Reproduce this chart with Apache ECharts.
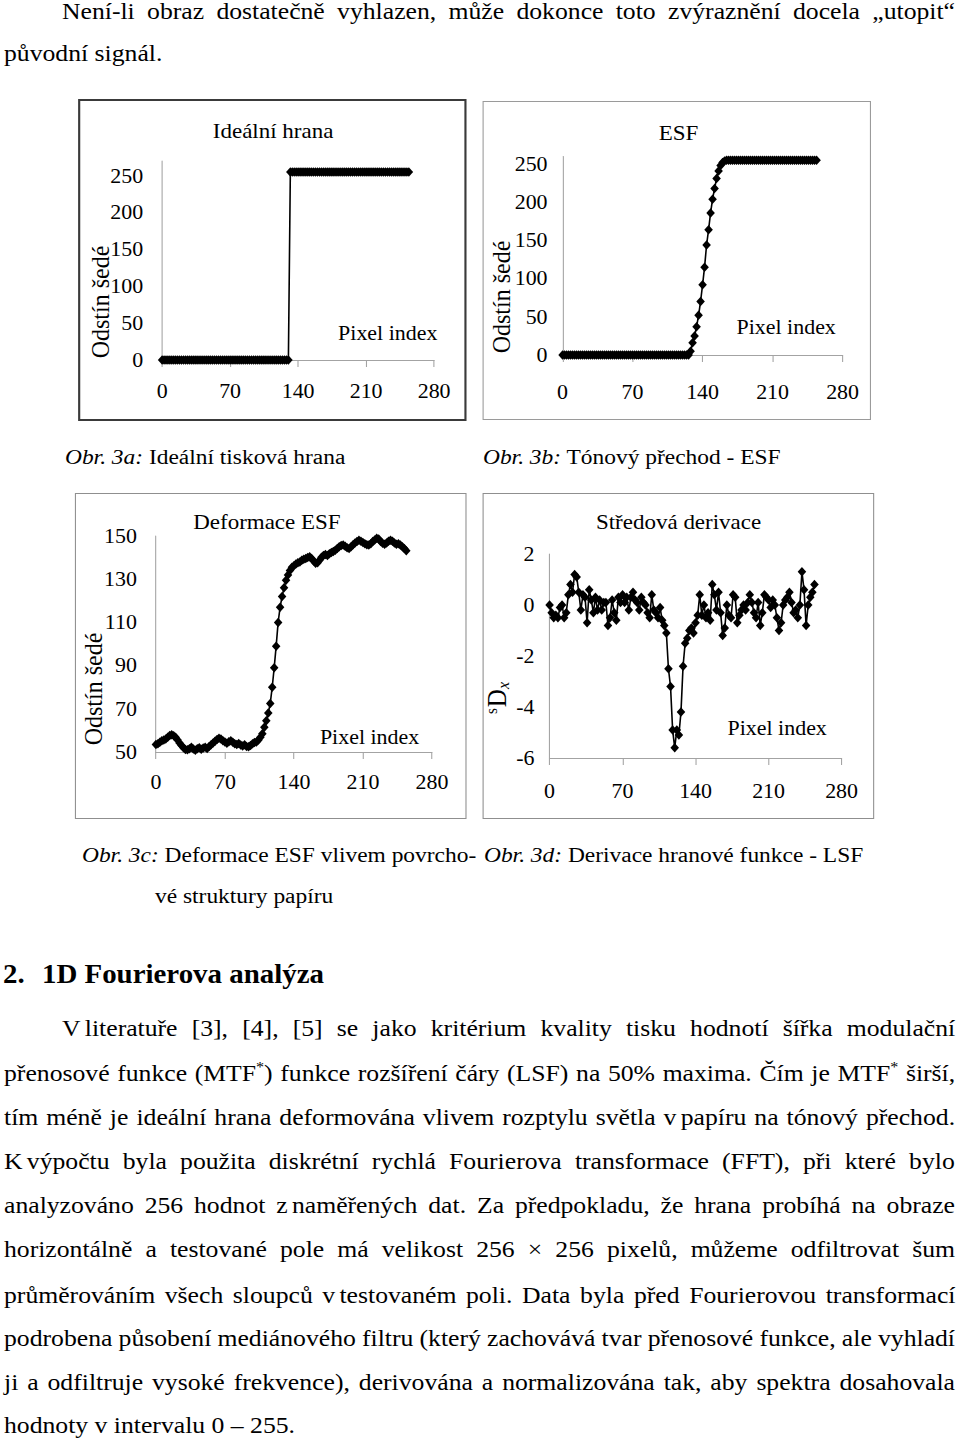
<!DOCTYPE html>
<html><head><meta charset="utf-8">
<script src="https://cdn.jsdelivr.net/npm/echarts@6/dist/echarts.min.js"></script>
<style>
html,body{margin:0;padding:0;background:#fff;}
body{width:960px;height:1440px;overflow:hidden;position:relative;}
#page{position:absolute;left:0;top:0;height:1440px;transform-origin:0 0;font-family:"Liberation Serif","Times New Roman",serif;color:#000;}
.ln{position:absolute;white-space:nowrap;font-size:21.9px;line-height:44px;}
.bd{font-size:24px;}
.hd{font-size:27px;font-weight:bold;}
.ns{display:inline-block;width:4px;}
sup{font-size:15px;line-height:0;vertical-align:9px;}
.frame{position:absolute;box-sizing:border-box;}
.chart{position:absolute;}
</style></head><body>
<div id="page">
<div class="ln bd" data-x="62" data-r="955" data-y="12">Není-li obraz dostatečně vyhlazen, může dokonce toto zvýraznění docela „utopit“</div>
<div class="ln bd" data-x="4" data-y="54">původní signál.</div>

<div class="frame" id="fA"></div><div class="chart" id="cA"></div>
<div class="frame" id="fB"></div><div class="chart" id="cB"></div>
<div class="ln" data-x="65" data-y="458"><i>Obr. 3a:</i> Ideální tisková hrana</div>
<div class="ln" data-x="483" data-y="458"><i>Obr. 3b:</i> Tónový přechod - ESF</div>

<div class="frame" id="fC"></div><div class="chart" id="cC"></div>
<div class="frame" id="fD"></div><div class="chart" id="cD"></div>
<div class="ln" data-x="82" data-y="856"><i>Obr. 3c:</i> Deformace ESF vlivem povrcho-</div>
<div class="ln" data-x="155" data-y="897">vé struktury papíru</div>
<div class="ln" data-x="484" data-y="856"><i>Obr. 3d:</i> Derivace hranové funkce - LSF</div>

<div class="ln hd" data-x="3" data-y="975">2.</div>
<div class="ln hd" data-x="42" data-y="975">1D Fourierova analýza</div>

<div class="ln bd" data-x="62" data-r="955" data-y="1029">V<span class="ns"></span>literatuře [3], [4], [5] se jako kritérium kvality tisku hodnotí šířka modulační</div>
<div class="ln bd" data-x="4" data-r="955" data-y="1074">přenosové funkce (MTF<sup>*</sup>) funkce rozšíření čáry (LSF) na 50% maxima. Čím je MTF<sup>*</sup> širší,</div>
<div class="ln bd" data-x="4" data-r="955" data-y="1118">tím méně je ideální hrana deformována vlivem rozptylu světla v<span class="ns"></span>papíru na tónový přechod.</div>
<div class="ln bd" data-x="4" data-r="955" data-y="1162">K<span class="ns"></span>výpočtu byla použita diskrétní rychlá Fourierova transformace (FFT), při které bylo</div>
<div class="ln bd" data-x="4" data-r="955" data-y="1206">analyzováno 256 hodnot z<span class="ns"></span>naměřených dat. Za předpokladu, že hrana probíhá na obraze</div>
<div class="ln bd" data-x="4" data-r="955" data-y="1250">horizontálně a testované pole má velikost 256 × 256 pixelů, můžeme odfiltrovat šum</div>
<div class="ln bd" data-x="4" data-r="955" data-y="1296">průměrováním všech sloupců v<span class="ns"></span>testovaném poli. Data byla před Fourierovou transformací</div>
<div class="ln bd" data-x="4" data-r="955" data-y="1339">podrobena působení mediánového filtru (který zachovává tvar přenosové funkce, ale vyhladí</div>
<div class="ln bd" data-x="4" data-r="955" data-y="1383">ji a odfiltruje vysoké frekvence), derivována a normalizována tak, aby spektra dosahovala</div>
<div class="ln bd" data-x="4" data-y="1426">hodnoty v intervalu 0 – 255.</div>
</div>
<script>
// ---------------- data ----------------
const pixelIndex = [
  0,2,4,6,8,10,12,14,16,18,20,22,24,26,28,30,
  32,34,36,38,40,42,44,46,48,50,52,54,56,58,60,62,
  64,66,68,70,72,74,76,78,80,82,84,86,88,90,92,94,
  96,98,100,102,104,106,108,110,112,114,116,118,120,122,124,126,
  128,130,132,134,136,138,140,142,144,146,148,150,152,154,156,158,
  160,162,164,166,168,170,172,174,176,178,180,182,184,186,188,190,
  192,194,196,198,200,202,204,206,208,210,212,214,216,218,220,222,
  224,226,228,230,232,234,236,238,240,242,244,246,248,250,252,254
];
const idealEdge = [
  0,0,0,0,0,0,0,0,0,0,0,0,0,0,0,0,
  0,0,0,0,0,0,0,0,0,0,0,0,0,0,0,0,
  0,0,0,0,0,0,0,0,0,0,0,0,0,0,0,0,
  0,0,0,0,0,0,0,0,0,0,0,0,0,0,0,0,
  0,0,255,255,255,255,255,255,255,255,255,255,255,255,255,255,
  255,255,255,255,255,255,255,255,255,255,255,255,255,255,255,255,
  255,255,255,255,255,255,255,255,255,255,255,255,255,255,255,255,
  255,255,255,255,255,255,255,255,255,255,255,255,255,255,255,255
];
const esfValues = [
  0,0,0,0,0,0,0,0,0,0,0,0,0,0,0,0,
  0,0,0,0,0,0,0,0,0,0,0,0,0,0,0,0,
  0,0,0,0,0,0,0,0,0,0,0,0,0,0,0,0,
  0,0,0,0,0,0,0,0,0,0,0,0,0,0,0,0,
  5,16,25,37,52,70,92,115,144,164,186,204,218,231,241,248,
  252,254,255,255,255,255,255,255,255,255,255,255,255,255,255,255,
  255,255,255,255,255,255,255,255,255,255,255,255,255,255,255,255,
  255,255,255,255,255,255,255,255,255,255,255,255,255,255,255,255
];
const deformedEsf = [
  53.5,53.8,54.5,55.2,55.6,56,56.8,57.6,58,57.5,56.8,55.5,54.2,53,52,51.2,
  51,51.5,52.2,51.4,50.8,51.5,52,51.3,51.8,52.2,51.6,52.5,53.4,54.2,55,55.8,
  56.4,56,55.2,54.6,54,54.8,55.2,54.5,53.8,53.5,53.9,53.2,52.8,53.4,52.6,52.4,
  53,53.8,54.4,54.6,55.6,56.8,58.4,61.5,64.5,68,72.5,80,89,99,110,117,
  122,126,129.5,132,134,135.5,136.2,137,137.6,138,138.8,139.2,139.6,140,140.4,139.6,
  138.4,137.4,137.6,138.8,140.2,141,141.4,141,141.8,142.4,142.8,143.4,144.2,145,145.6,145.8,
  145.2,144.6,144.2,145,146,146.8,147.4,148,147.6,147,146.4,146,145.8,146.4,147.4,148.2,
  149,148.6,147.4,146.6,146.2,146.8,147.6,148,147.6,146.8,146.2,146.4,145.8,145,144.2,143.2
];
const centralDerivative = [
  0,-0.3,-0.5,-0.4,-0.5,-0.1,0,-0.5,-0.3,0.4,0.8,0.5,1.2,1.1,0.5,-0.2,
  0.4,0.3,-0.7,0.6,0.2,-0.3,0.3,-0.2,0.2,-0.2,0.1,0.1,-0.8,-0.5,0.2,-0.3,
  -0.6,0.3,0.1,0.4,0.1,0.3,-0.2,0.3,0.5,0.2,0.1,-0.2,0.3,0.1,0,-0.3,
  -0.5,0.4,-0.2,-0.3,-0.5,-0.1,-0.6,-0.8,-1.1,-2.5,-3.2,-4.9,-5.6,-4.9,-5.1,-4.2,
  -2.4,-1.5,-1.3,-1.0,-0.9,-1.1,-0.7,-0.4,0.4,-0.4,0,-0.5,-0.3,-0.6,0.8,0.4,
  -0.2,0.5,-0.3,-1.2,-0.9,0,-0.4,-0.5,0.4,0.3,-0.7,-0.4,-0.2,0,-0.2,0.1,
  0.4,0.1,-0.3,-0.5,0.1,-0.8,-0.3,0.4,0.3,0.2,-0.1,0.2,0,-0.5,-1.0,-0.7,
  0,0.2,0.3,0.5,0.1,-0.3,-0.2,-0.5,0,1.3,0.6,-0.8,0,0.3,0.5,0.8
];
const chartTitles = ['Ideální hrana', 'ESF', 'Deformace ESF', 'Středová derivace'];
const xAxisName = 'Pixel index';
const yAxisName = 'Odstín šedé';

// ---------------- layout ----------------
const S = 1.07; // horizontal stretch of the reference page
const FF = '"Liberation Serif", "Times New Roman", serif';
const page = document.getElementById('page');
page.style.width = (960 / S) + 'px';
page.style.transform = 'scaleX(' + S + ')';

function layoutText() {
  document.querySelectorAll('.ln').forEach(el => {
    const x = +el.dataset.x, cy = +el.dataset.y;
    el.style.left = (x / S) + 'px';
    el.style.top = (cy - 23) + 'px';
    if (el.dataset.r) {
      el.style.wordSpacing = '0px';
      const target = (+el.dataset.r - x) / S;
      const natural = el.offsetWidth;
      const n = (el.textContent.match(/ /g) || []).length;
      if (n > 0) el.style.wordSpacing = ((target - natural) / n) + 'px';
    }
  });
}
layoutText();
if (document.fonts && document.fonts.ready) document.fonts.ready.then(layoutText);

function place(id, x, y, w, h, border) {
  const el = document.getElementById(id);
  el.style.left = (x / S) + 'px';
  el.style.top = y + 'px';
  el.style.width = (w / S) + 'px';
  el.style.height = h + 'px';
  if (border) el.style.border = border;
  return el;
}

const axisCol = '#a3a3a3';
function build(id, c) {
  const el = place(id, c.fx, c.fy, c.fw, c.fh);
  place('f' + id.slice(1), c.fx, c.fy, c.fw, c.fh, c.border);
  const ch = echarts.init(el, null, {renderer: 'svg'});
  const yName = c.rich ? {
    type: 'text', x: c.nx / S, y: c.ny, rotation: Math.PI / 2,
    style: {text: '{s|s}{d|D}{x|x}', align: 'center', verticalAlign: 'middle', textAlign: 'center', textVerticalAlign: 'middle', fill: '#000',
      rich: {
        s: {fontFamily: FF, fontSize: 15, verticalAlign: 'top', lineHeight: 26, padding: [0, 1, 12, 0]},
        d: {fontFamily: FF, fontSize: 25, lineHeight: 26},
        x: {fontFamily: FF, fontSize: 16, fontStyle: 'italic', verticalAlign: 'bottom', lineHeight: 26, padding: [8, 0, 0, 0]}
      }}
  } : {
    type: 'text', x: c.nx / S, y: c.ny, rotation: Math.PI / 2,
    style: {text: yAxisName, font: '24px ' + FF, fill: '#000', align: 'center', verticalAlign: 'middle', textAlign: 'center', textVerticalAlign: 'middle'}
  };
  ch.setOption({
    animation: false,
    grid: {left: c.gl / S, top: c.gt, width: c.gw / S, height: c.gh, containLabel: false, outerBoundsMode: 'none'},
    xAxis: {
      type: 'value', min: 0, max: 280, interval: 70,
      axisLine: {show: true, onZero: false, lineStyle: {color: axisCol, width: 1}},
      axisTick: {show: true, inside: false, length: 7, lineStyle: {color: axisCol, width: 1}},
      axisLabel: {show: true, margin: c.xm, color: '#000', fontFamily: FF, fontSize: 20.5},
      splitLine: {show: false}
    },
    yAxis: {
      type: 'value', min: c.ymin, max: c.ymax, interval: c.yint,
      axisLine: {show: true, lineStyle: {color: axisCol, width: 1}},
      axisTick: {show: false},
      axisLabel: {show: true, margin: c.ym / S, color: '#000', fontFamily: FF, fontSize: 20.5, showMaxLabel: c.showMax},
      splitLine: {show: false}
    },
    series: [{
      type: 'line', data: pixelIndex.map((x, i) => [x, c.values[i]]),
      symbol: 'diamond', symbolSize: [8, 9.5], showSymbol: true, clip: false, silent: true,
      itemStyle: {color: '#000'}, lineStyle: {color: '#000', width: 1.5}
    }],
    graphic: [
      {type: 'text', x: c.tx / S, y: c.ty, style: {text: c.title, font: '21.5px ' + FF, fill: '#000', align: 'center', verticalAlign: 'middle', textAlign: 'center', textVerticalAlign: 'middle'}},
      {type: 'text', x: c.px / S, y: c.py, style: {text: xAxisName, font: '20.5px ' + FF, fill: '#000', align: 'left', verticalAlign: 'middle', textAlign: 'left', textVerticalAlign: 'middle'}},
      yName
    ]
  });
}

build('cA', {fx: 78, fy: 99, fw: 389, fh: 322, border: '2px solid #3a3a3a',
  gl: 84, gw: 272, gt: 62, gh: 199, ymin: 0, ymax: 270, yint: 50, showMax: false, xm: 21, ym: 19,
  values: idealEdge, title: chartTitles[0], tx: 195, ty: 32, px: 260, py: 234, nx: 22, ny: 203});
build('cB', {fx: 483, fy: 101, fw: 388, fh: 319, border: '1.5px solid #9a9a9a',
  gl: 80, gw: 280, gt: 55.4, gh: 198.6, ymin: 0, ymax: 260, yint: 50, showMax: false, xm: 27, ym: 15,
  values: esfValues, title: chartTitles[1], tx: 196, ty: 32, px: 254, py: 226, nx: 18.5, ny: 196});
build('cC', {fx: 75, fy: 493, fw: 392, fh: 326, border: '1.5px solid #8f8f8f',
  gl: 81, gw: 276, gt: 43, gh: 216, ymin: 50, ymax: 150, yint: 20, showMax: true, xm: 20, ym: 19,
  values: deformedEsf, title: chartTitles[2], tx: 192, ty: 29, px: 245, py: 244, nx: 18, ny: 196});
build('cD', {fx: 483, fy: 493, fw: 391, fh: 326, border: '1.5px solid #8f8f8f',
  gl: 67, gw: 292, gt: 61, gh: 204, ymin: -6, ymax: 2, yint: 2, showMax: true, xm: 23, ym: 15,
  values: centralDerivative, title: chartTitles[3], tx: 196, ty: 29, px: 245, py: 235, nx: 15, ny: 205, rich: true});
</script>
</body></html>
